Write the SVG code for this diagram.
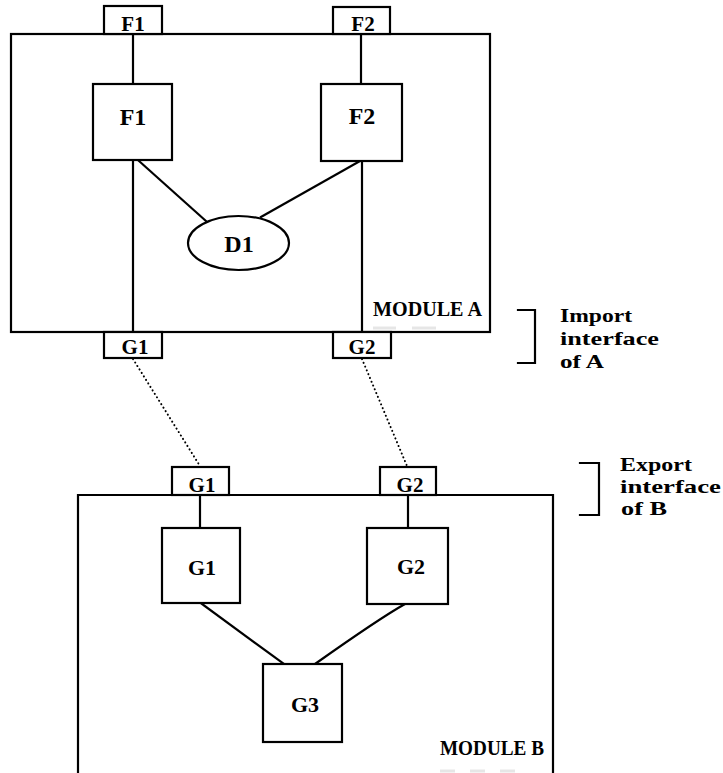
<svg xmlns="http://www.w3.org/2000/svg" width="723" height="773" viewBox="0 0 723 773">
<style>
.ln{stroke:#000;stroke-width:2.2;fill:none;stroke-linecap:square}
.box{stroke:#000;stroke-width:2.2;fill:#fff}
.dot{stroke:#000;stroke-width:2;fill:none;stroke-dasharray:0.1 4;stroke-linecap:round}
.t{font-family:"Liberation Serif","DejaVu Serif",serif;font-weight:bold;fill:#000}
.pl{font-size:21px;text-anchor:middle}
.bl{font-size:24px;text-anchor:middle}
.gl{font-size:22px;text-anchor:middle}
.lab{font-size:19px}
.smudge{stroke:#e6e6e6;stroke-width:3}
</style>
<rect width="723" height="773" fill="#fff"/>

<g id="moduleA">
  <rect class="box" x="11" y="34" width="479" height="298"/>
  <text class="t" x="373" y="316" font-size="21" textLength="109" lengthAdjust="spacingAndGlyphs">MODULE A</text>
  <line class="smudge" x1="373" y1="328" x2="396" y2="328"/>
  <line class="smudge" x1="412" y1="328" x2="436" y2="328"/>
</g>

<g id="moduleB">
  <path class="ln" d="M78,773 V495 H553 V773"/>
  <text class="t" x="440" y="755" font-size="21" textLength="104" lengthAdjust="spacingAndGlyphs">MODULE B</text>
  <line class="smudge" x1="440" y1="771" x2="455" y2="771"/>
  <line class="smudge" x1="470" y1="771" x2="485" y2="771"/>
  <line class="smudge" x1="500" y1="771" x2="515" y2="771"/>
</g>

<g id="connectors">
  <line class="ln" x1="133" y1="34" x2="133" y2="84"/>
  <line class="ln" x1="361" y1="34" x2="361" y2="84"/>
  <line class="ln" x1="133" y1="160" x2="133" y2="332"/>
  <line class="ln" x1="362" y1="161" x2="362" y2="332"/>
  <line class="ln" x1="139" y1="161" x2="206" y2="221"/>
  <line class="ln" x1="360" y1="161" x2="261" y2="217"/>
  <line class="dot" x1="133" y1="359" x2="200" y2="466"/>
  <line class="dot" x1="362" y1="359" x2="407" y2="466"/>
  <line class="ln" x1="200" y1="495" x2="200" y2="528"/>
  <line class="ln" x1="408" y1="495" x2="408" y2="528"/>
  <line class="ln" x1="202" y1="604" x2="284" y2="664"/>
  <path class="ln" d="M405,604 Q380,618 315,664"/>
</g>

<g id="portA_F1">
  <rect class="box" x="104" y="6" width="58" height="28"/>
  <text class="t pl" x="133" y="31">F1</text>
</g>
<g id="portA_F2">
  <rect class="box" x="333" y="7" width="57" height="27"/>
  <text class="t pl" x="363" y="31">F2</text>
</g>
<g id="boxF1">
  <rect class="box" x="93" y="84" width="79" height="76"/>
  <text class="t bl" x="133" y="125">F1</text>
</g>
<g id="boxF2">
  <rect class="box" x="321" y="84" width="81" height="77"/>
  <text class="t bl" x="362" y="124">F2</text>
</g>
<g id="D1">
  <ellipse class="box" cx="238.5" cy="243" rx="50.5" ry="27"/>
  <text class="t bl" x="239" y="252">D1</text>
</g>
<g id="portA_G1">
  <rect class="box" x="104" y="332" width="58" height="26"/>
  <text class="t pl" x="135" y="354">G1</text>
</g>
<g id="portA_G2">
  <rect class="box" x="333" y="332" width="58" height="26"/>
  <text class="t pl" x="362" y="354">G2</text>
</g>

<g id="portB_G1">
  <rect class="box" x="172" y="467" width="57" height="28"/>
  <text class="t pl" x="202" y="492">G1</text>
</g>
<g id="portB_G2">
  <rect class="box" x="380" y="467" width="56" height="28"/>
  <text class="t pl" x="410" y="492">G2</text>
</g>
<g id="boxG1">
  <rect class="box" x="162" y="528" width="78" height="75"/>
  <text class="t gl" x="202" y="575">G1</text>
</g>
<g id="boxG2">
  <rect class="box" x="367" y="528" width="81" height="76"/>
  <text class="t gl" x="411" y="574">G2</text>
</g>
<g id="boxG3">
  <rect class="box" x="263" y="664" width="79" height="78"/>
  <text class="t gl" x="305" y="712">G3</text>
</g>

<g id="importLabel">
  <polyline class="ln" points="518,310 535,310 535,363 518,363"/>
  <text class="t lab" x="560" y="322" textLength="72" lengthAdjust="spacingAndGlyphs">Import</text>
  <text class="t lab" x="560" y="345" textLength="99" lengthAdjust="spacingAndGlyphs">interface</text>
  <text class="t lab" x="560" y="368" textLength="44" lengthAdjust="spacingAndGlyphs">of A</text>
</g>
<g id="exportLabel">
  <polyline class="ln" points="580,463 599,463 599,515 580,515"/>
  <text class="t lab" x="620" y="471" textLength="72" lengthAdjust="spacingAndGlyphs">Export</text>
  <text class="t lab" x="620" y="493" textLength="101" lengthAdjust="spacingAndGlyphs">interface</text>
  <text class="t lab" x="621" y="515" textLength="46" lengthAdjust="spacingAndGlyphs">of B</text>
</g>
</svg>
